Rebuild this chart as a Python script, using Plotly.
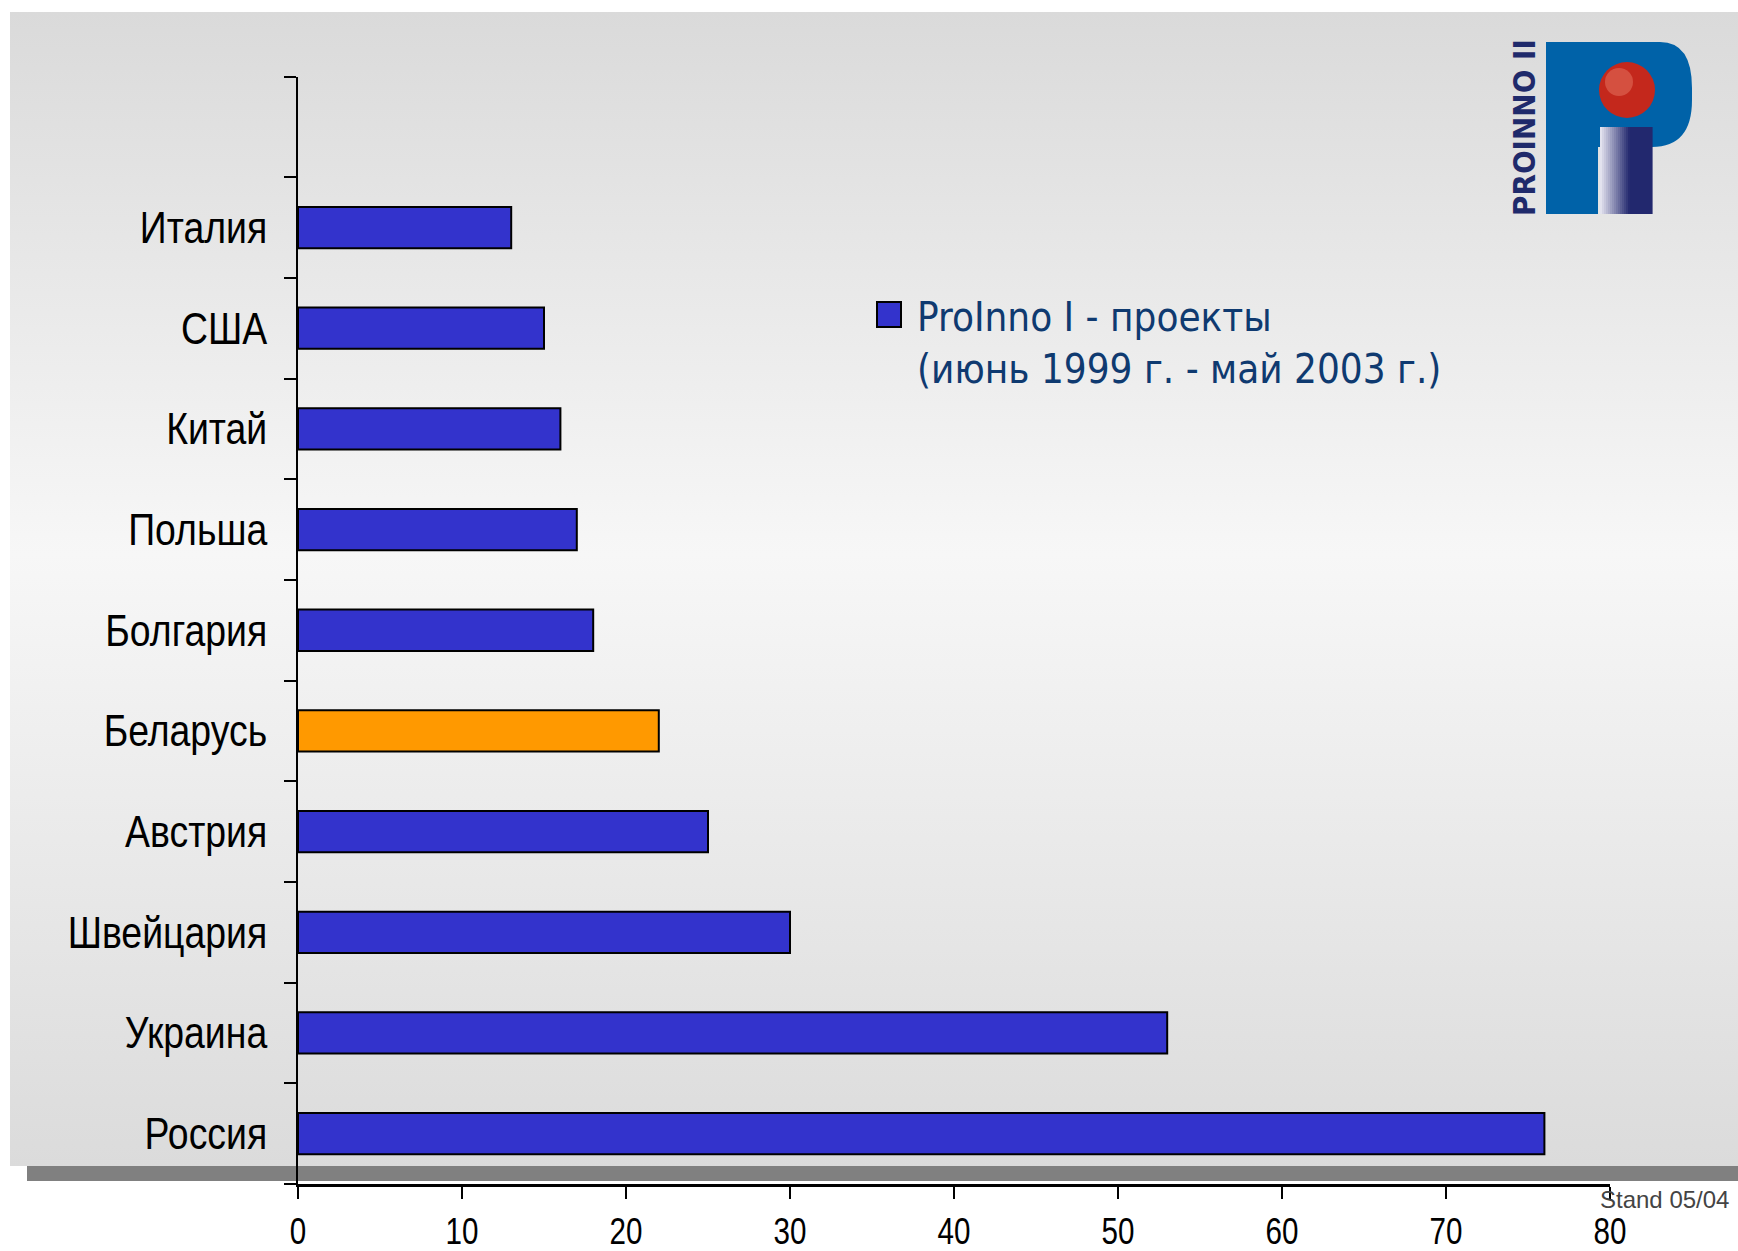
import base64
import plotly.graph_objects as go

# ---------------- data ----------------
countries = ["Россия", "Украина", "Швейцария", "Австрия", "Беларусь",
             "Болгария", "Польша", "Китай", "США", "Италия"]
projects = [76, 53, 30, 25, 22, 18, 17, 16, 15, 13]
highlight_country = "Беларусь"
x_tick_values = [0, 10, 20, 30, 40, 50, 60, 70, 80]
legend_lines = ["ProInno I - проекты", "(июнь 1999 г. - май 2003 г.)"]
logo_text = "PROINNO II"
footer_text = "Stand 05/04"

# ---------------- style ----------------
W, H = 1738, 1251
BLUE = "#3333cc"
ORANGE = "#ff9900"
COND = "DejaVu Sans Condensed, Liberation Sans, sans-serif"
REG = "Liberation Sans, Arial, sans-serif"


def px(x, y):
    return x / W, 1 - y / H


slot_count = len(countries) + 1  # one empty slot on top
positions = list(range(len(countries)))
colors = [ORANGE if c == highlight_country else BLUE for c in countries]

fig = go.Figure()
fig.add_trace(go.Bar(
    x=projects, y=positions, orientation="h",
    marker=dict(color=colors, line=dict(color="black", width=2)),
    width=0.41, showlegend=False, hoverinfo="x+text", text=countries,
    textposition="none",
))

x0p, _ = px(298, 0)
x1p, _ = px(1610, 0)
_, ytop = px(0, 76.5)
_, ybot = px(0, 1184)

fig.update_layout(
    template="none",
    width=W, height=H, autosize=False,
    margin=dict(l=0, r=0, t=0, b=0, pad=0, autoexpand=False),
    paper_bgcolor="white",
    plot_bgcolor="rgba(0,0,0,0)",
    xaxis=dict(
        domain=[x0p, x1p], range=[0, 80], automargin=False,
        tickmode="array", tickvals=x_tick_values,
        ticktext=[str(v) for v in x_tick_values],
        ticks="outside", ticklen=12, tickwidth=1.5, tickcolor="black",
        showline=True, linecolor="black", linewidth=3,
        showgrid=False, zeroline=False,
        tickfont=dict(family=REG, size=37, color="black"),
        ticklabelstandoff=1,
        anchor="y",
    ),
    yaxis=dict(
        domain=[ybot, ytop], range=[-0.5, slot_count - 0.5], automargin=False,
        tickmode="array", tickvals=positions, ticktext=countries,
        ticks="", showline=True, linecolor="black", linewidth=2,
        showgrid=False, zeroline=False,
        tickfont=dict(family=REG, size=44, color="black"),
        ticklabelstandoff=20,
        minor=dict(tickmode="linear", tick0=-0.5, dtick=1,
                   ticks="outside", ticklen=12, tickwidth=1.5,
                   tickcolor="black", showgrid=False),
        anchor="x",
    ),
)

# ---------------- background panel (gradient) ----------------
svg = (
    '<svg xmlns="http://www.w3.org/2000/svg" width="100" height="100" '
    'preserveAspectRatio="none" viewBox="0 0 100 100">'
    '<defs><linearGradient id="g" x1="0" y1="0" x2="0" y2="1">'
    '<stop offset="0" stop-color="#dadada"/>'
    '<stop offset="0.47" stop-color="#f7f7f7"/>'
    '<stop offset="1" stop-color="#dbdbdb"/>'
    '</linearGradient></defs>'
    '<rect x="0" y="0" width="100" height="100" fill="url(#g)"/></svg>'
)
src = "data:image/svg+xml;base64," + base64.b64encode(svg.encode()).decode()
px0, py0 = px(10, 12)
px1, py1 = px(W, 1166)
fig.add_layout_image(dict(
    source=src, xref="paper", yref="paper", x=px0, y=py0,
    sizex=px1 - px0, sizey=py0 - py1, sizing="stretch",
    xanchor="left", yanchor="top", layer="below",
))

shapes = []
# dark gray bar under the panel
gx0, gy0 = px(27, 1166)
gx1, gy1 = px(W, 1181)
shapes.append(dict(type="rect", xref="paper", yref="paper", x0=gx0, y0=gy1,
                   x1=gx1, y1=gy0, fillcolor="#808080", line=dict(width=0),
                   layer="below"))

# legend square
lx0, ly0 = px(877, 302)
lx1, ly1 = px(901, 327)
shapes.append(dict(type="rect", xref="paper", yref="paper", x0=lx0, y0=ly1,
                   x1=lx1, y1=ly0, fillcolor=BLUE,
                   line=dict(color="black", width=2)))


def path(points_cmds):
    out = []
    for cmd, *pts in points_cmds:
        coords = []
        for (x, y) in pts:
            a, b = px(x, y)
            coords.append(f"{a:.5f},{b:.5f}")
        out.append(cmd + " ".join(coords))
    return " ".join(out) + " Z"


# logo: blue "P"
p_path = path([
    ("M", (1546, 42)), ("L", (1660, 42)), ("Q", (1692, 42), (1692, 88)),
    ("L", (1692, 100)), ("Q", (1692, 147), (1652, 147)),
    ("L", (1598, 147)), ("L", (1598, 214)), ("L", (1546, 214)),
])
shapes.append(dict(type="path", xref="paper", yref="paper", path=p_path,
                   fillcolor="#0062a8", line=dict(width=0)))

# "i" stem with horizontal gradient strips
stem_x0, stem_x1, stem_y0, stem_y1 = 1600, 1652, 127, 214
n = 26
light = (226, 226, 238)
dark = (34, 40, 110)
for i in range(n):
    t = min(1.0, i / (n * 0.55))
    c = tuple(int(light[k] + (dark[k] - light[k]) * t) for k in range(3))
    xa = stem_x0 + (stem_x1 - stem_x0) * i / n
    xb = stem_x0 + (stem_x1 - stem_x0) * (i + 1) / n + 0.6
    a0, b0 = px(xa, stem_y0)
    a1, b1 = px(xb, stem_y1)
    shapes.append(dict(type="rect", xref="paper", yref="paper", x0=a0, y0=b1,
                       x1=a1, y1=b0, fillcolor=f"rgb{c}", line=dict(width=0)))

# red sphere
cx, cy, r = 1627, 90, 28
a0, b0 = px(cx - r, cy - r)
a1, b1 = px(cx + r, cy + r)
shapes.append(dict(type="circle", xref="paper", yref="paper", x0=a0, y0=b1,
                   x1=a1, y1=b0, fillcolor="#c4281c", line=dict(width=0)))
cx2, cy2, r2 = 1619, 82, 14
a0, b0 = px(cx2 - r2, cy2 - r2)
a1, b1 = px(cx2 + r2, cy2 + r2)
shapes.append(dict(type="circle", xref="paper", yref="paper", x0=a0, y0=b1,
                   x1=a1, y1=b0, fillcolor="rgba(240,140,120,0.40)",
                   line=dict(width=0)))

fig.update_layout(shapes=shapes)

# ---------------- annotations ----------------
ax_, ay_ = px(915, 343)
fig.add_annotation(
    x=ax_, y=ay_, xref="paper", yref="paper", xanchor="left", yanchor="middle",
    text="<br>".join(legend_lines), showarrow=False, align="left",
    font=dict(family=COND, size=40, color="#0f3a70"),
)

tx, ty = px(1524, 128)
fig.add_annotation(
    x=tx, y=ty, xref="paper", yref="paper", xanchor="center", yanchor="middle",
    text=f"<b>{logo_text}</b>", showarrow=False, textangle=-90,
    font=dict(family=COND, size=31, color="#1f2a6b"),
)

sx, sy = px(1731, 1199)
fig.add_annotation(
    x=sx, y=sy, xref="paper", yref="paper", xanchor="right", yanchor="middle",
    text=footer_text, showarrow=False,
    font=dict(family=REG, size=24, color="#444444"),
)

# narrow the tick-label glyphs horizontally (reference uses a narrow face)
squeeze_js = """
var gd = document.getElementById('{plot_id}');
function squeeze(sel, s) {
  gd.querySelectorAll(sel).forEach(function (t) {
    var x = parseFloat(t.getAttribute('x')) || 0;
    var tr = t.getAttribute('transform') || '';
    t.setAttribute('transform', tr + ' translate(' + x + ',0) scale(' + s + ',1) translate(' + (-x) + ',0)');
  });
}
squeeze('.ytick text', 0.85);
squeeze('.xtick text', 0.80);
document.body.style.margin = '0';
document.body.style.overflow = 'hidden';
"""

fig.write_html(
    "out.html",
    config={"displayModeBar": False, "responsive": False},
    post_script=squeeze_js,
)
